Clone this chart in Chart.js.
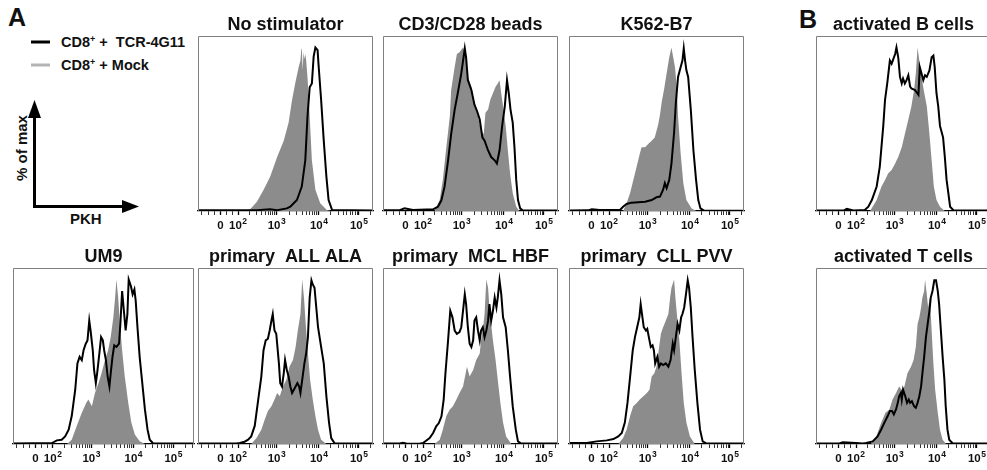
<!DOCTYPE html>
<html>
<head>
<meta charset="utf-8">
<script src="https://cdn.jsdelivr.net/npm/chart.js@4.4.1/dist/chart.umd.min.js"></script>
<style>
  body { margin: 0; width: 987px; height: 470px; overflow: hidden; position: relative; background: #fff;
         font-family: 'Liberation Sans', Arial, sans-serif; color: #111; }
  canvas { position: absolute; }
  .letter { position: absolute; font-weight: bold; font-size: 25px; line-height: 25px; }
  .leg { position: absolute; font-weight: bold; font-size: 14.5px; line-height: 16px; white-space: pre; }
  .leg sup { font-size: 9px; vertical-align: 5px; line-height: 0; }
  .axname { position: absolute; font-weight: bold; font-size: 15px; line-height: 16px; white-space: pre; }
</style>
</head>
<body>
<div class="letter" style="left:8px;top:5px">A</div>
<div class="letter" style="left:799px;top:7px">B</div>

<svg width="160" height="230" style="position:absolute;left:0;top:0">
  <line x1="31" y1="42" x2="50" y2="42" stroke="#000" stroke-width="3"/>
  <line x1="31" y1="65" x2="50" y2="65" stroke="#b4b4b4" stroke-width="3"/>
  <line x1="34.5" y1="207.5" x2="34.5" y2="114" stroke="#000" stroke-width="3"/>
  <polygon points="28,118 41,118 34.5,100" fill="#000"/>
  <line x1="33" y1="206.5" x2="124" y2="206.5" stroke="#000" stroke-width="3"/>
  <polygon points="122,200 122,213 139,206.5" fill="#000"/>
</svg>
<div class="leg" style="left:61px;top:34px">CD8<sup>+</sup> +  TCR-4G11</div>
<div class="leg" style="left:61px;top:57px">CD8<sup>+</sup> + Mock</div>
<div class="axname" style="left:-16px;top:140px;transform:rotate(-90deg);width:76px;text-align:center">% of max</div>
<div class="axname" style="left:70px;top:211px">PKH</div>

<canvas id="noStim" width="187" height="237" style="left:192px;top:0px"></canvas>
<canvas id="cd3" width="187" height="237" style="left:377px;top:0px"></canvas>
<canvas id="k562" width="187" height="237" style="left:563px;top:0px"></canvas>
<canvas id="bcell" width="187" height="237" style="left:810px;top:0px"></canvas>
<canvas id="um9" width="193" height="238" style="left:7px;top:232px"></canvas>
<canvas id="all" width="187" height="238" style="left:192px;top:232px"></canvas>
<canvas id="mcl" width="187" height="238" style="left:377px;top:232px"></canvas>
<canvas id="cll" width="187" height="238" style="left:563px;top:232px"></canvas>
<canvas id="tcell" width="187" height="238" style="left:810px;top:232px"></canvas>

<script>
// x in display decades (biexponential PKH axis), y in % of max
var tickPos = [1.78, 2.18, 3.06, 4.02, 4.93];
var tickBase = ['0', '10', '10', '10', '10'];
var tickExp = ['', '2', '3', '4', '5'];

// No stimulator
var noStimTcr = [[1.27,0.4],[2.61,0.5],[2.91,1.0],[3.07,0.5],[3.29,1.6],[3.37,2.6],[3.52,6.7],[3.63,14.9],[3.71,31],[3.76,57.7],[3.81,75.6],[3.86,78],[3.90,94.4],[3.94,100],[3.99,98.4],[4.01,90],[4.07,68],[4.13,43],[4.19,21],[4.24,6.7],[4.32,0.6],[5.25,0.3]];
var noStimMock = [[2.42,0],[2.61,5.7],[2.76,12.8],[2.91,21],[3.07,33],[3.22,43],[3.33,54],[3.41,68],[3.48,78],[3.56,88],[3.60,92],[3.62,99],[3.63,100],[3.65,86],[3.67,97],[3.69,93],[3.71,96],[3.73,92],[3.76,82],[3.81,58],[3.86,31],[3.94,13],[4.05,4.7],[4.20,0.6],[4.28,0]];

// CD3/CD28 beads
var cd3Tcr = [[1.27,0.5],[1.65,0.5],[1.76,1.6],[1.95,0.6],[2.41,1.0],[2.52,2.6],[2.60,6.7],[2.67,14.9],[2.75,31],[2.82,47],[2.90,62],[2.97,72],[3.05,84],[3.13,99.5],[3.16,94],[3.20,80],[3.28,74],[3.35,65],[3.41,61],[3.47,56],[3.53,45],[3.58,43],[3.66,37],[3.73,33],[3.81,31],[3.86,29],[3.92,37],[3.98,52],[4.04,64],[4.09,80],[4.13,72],[4.17,62],[4.22,54],[4.26,39],[4.30,19],[4.34,6.7],[4.39,1.6],[4.45,0.3],[5.25,0.3]];
var cd3Mock = [[2.44,0],[2.56,6.7],[2.63,19],[2.71,39],[2.79,58],[2.82,74],[2.90,88],[2.95,96],[3.01,97],[3.09,100],[3.15,96],[3.20,82],[3.28,76],[3.35,66],[3.43,58],[3.50,49],[3.56,47],[3.60,60],[3.66,62],[3.71,68],[3.77,72],[3.83,76],[3.88,78],[3.92,80],[3.96,72],[4.01,62],[4.06,52],[4.11,37],[4.16,23],[4.22,11],[4.30,2.6],[4.37,0]];

// K562-B7
var k562Tcr = [[1.27,0.3],[1.70,0.4],[1.79,1.0],[1.97,0.6],[2.43,0.6],[2.50,2.6],[2.58,4.3],[2.69,5.1],[3.00,5.7],[3.15,6.7],[3.26,8.4],[3.34,8.8],[3.41,13],[3.45,17],[3.49,14],[3.55,19],[3.60,29],[3.66,48],[3.70,66],[3.75,82],[3.81,88],[3.85,92],[3.88,99.5],[3.91,92],[3.94,86],[3.98,82],[4.04,62],[4.10,37],[4.16,19],[4.21,6.7],[4.26,1.6],[4.34,0.2],[5.25,0.2]];
var k562Mock = [[2.50,0],[2.58,4.7],[2.66,11],[2.77,23],[2.88,35],[2.92,39],[3.00,39],[3.07,41],[3.15,43],[3.22,45],[3.30,53],[3.34,59],[3.38,67],[3.43,74],[3.49,84],[3.55,94],[3.60,100],[3.64,94],[3.68,88],[3.72,76],[3.75,58],[3.81,35],[3.87,17],[3.94,6.7],[4.06,1.6],[4.17,0]];

// activated B cells
var bcellTcr = [[1.27,0.3],[1.90,0.3],[1.97,1.4],[2.12,0.3],[2.38,0.6],[2.46,2.6],[2.54,6.7],[2.65,15],[2.72,27],[2.80,52],[2.84,68],[2.89,78],[2.95,92],[2.99,90],[3.03,93],[3.07,96],[3.10,100],[3.14,94],[3.18,82],[3.22,78],[3.25,81],[3.29,78],[3.33,80],[3.37,83],[3.41,76],[3.44,75],[3.52,74],[3.60,71],[3.63,88],[3.67,84],[3.71,80],[3.75,83],[3.79,82],[3.85,86],[3.90,94],[3.94,95],[3.97,88],[4.01,72],[4.05,64],[4.09,52],[4.13,48],[4.16,45],[4.20,33],[4.24,19],[4.28,11],[4.32,2.6],[4.40,0.3],[5.25,0.3]];
var bcellMock = [[2.50,0],[2.65,6.7],[2.76,15],[2.84,19],[2.91,23],[2.99,25],[3.07,29],[3.14,33],[3.22,39],[3.29,47],[3.37,56],[3.44,64],[3.50,74],[3.54,84],[3.58,100],[3.62,92],[3.67,82],[3.72,74],[3.79,64],[3.85,47],[3.90,31],[3.95,15],[4.01,6.7],[4.09,2.6],[4.20,0]];

// UM9
var um9Tcr = [[1.27,0.3],[2.16,0.6],[2.27,2.2],[2.38,2.6],[2.46,4.6],[2.54,8.7],[2.61,17],[2.69,33],[2.74,49],[2.79,53],[2.84,51],[2.88,57],[2.93,61],[2.97,63],[3.01,75],[3.04,69],[3.09,57],[3.12,45],[3.16,37],[3.19,43],[3.24,55],[3.28,65],[3.32,63],[3.35,57],[3.39,51],[3.43,41],[3.47,35],[3.50,43],[3.54,53],[3.58,60],[3.63,59],[3.69,61],[3.72,73],[3.76,93],[3.80,81],[3.84,69],[3.88,79],[3.91,100],[3.96,96],[4.00,91],[4.04,94],[4.07,87],[4.11,71],[4.16,53],[4.22,37],[4.28,21],[4.34,8.7],[4.39,2.6],[4.47,0.3],[5.40,0.3]];
var um9Mock = [[2.50,0],[2.61,2.6],[2.72,10.7],[2.84,19],[2.94,25],[2.99,27],[3.07,23],[3.14,31],[3.22,37],[3.29,43],[3.37,51],[3.44,57],[3.50,65],[3.56,77],[3.60,89],[3.63,100],[3.67,89],[3.71,73],[3.76,57],[3.82,41],[3.90,25],[3.97,13],[4.05,5.7],[4.16,1.6],[4.28,0]];

// primary ALL ALA
var allTcr = [[1.27,0.3],[2.14,0.3],[2.22,0.6],[2.33,1.4],[2.41,2.6],[2.48,4.6],[2.56,11],[2.63,25],[2.71,41],[2.76,57],[2.81,63],[2.86,64],[2.90,69],[2.94,75],[2.97,79],[3.01,69],[3.05,67],[3.07,61],[3.11,49],[3.14,37],[3.18,35],[3.22,43],[3.25,51],[3.29,45],[3.33,41],[3.37,35],[3.41,31],[3.45,33],[3.49,35],[3.53,37],[3.57,35],[3.60,31],[3.64,39],[3.69,49],[3.73,55],[3.77,65],[3.81,89],[3.85,99.5],[3.88,97],[3.92,95],[3.96,83],[4.00,71],[4.07,59],[4.13,49],[4.19,29],[4.25,13],[4.30,3.6],[4.38,0.3],[5.25,0.3]];
var allMock = [[2.48,0],[2.60,3.6],[2.71,8.7],[2.79,15],[2.86,20],[2.94,23],[3.01,27],[3.07,31],[3.13,29],[3.20,35],[3.28,39],[3.35,47],[3.43,51],[3.49,59],[3.54,69],[3.60,79],[3.64,100],[3.68,89],[3.72,73],[3.77,55],[3.82,39],[3.88,27],[3.94,17],[4.00,8.7],[4.07,2.6],[4.19,0]];

// primary MCL HBF
var mclTcr = [[1.27,0.3],[1.65,0.3],[1.72,0.8],[1.80,0.3],[2.10,0.2],[2.18,0.6],[2.25,2.0],[2.33,3.6],[2.41,6.7],[2.48,10.7],[2.54,12.7],[2.60,16.8],[2.65,27],[2.69,43],[2.75,63],[2.80,81],[2.85,77],[2.90,69],[2.95,67],[3.01,68],[3.05,71],[3.09,81],[3.13,91],[3.16,85],[3.20,71],[3.24,61],[3.28,59],[3.32,63],[3.35,75],[3.39,77],[3.43,69],[3.47,63],[3.50,69],[3.54,71],[3.58,65],[3.62,69],[3.66,75],[3.69,85],[3.73,75],[3.77,81],[3.81,89],[3.85,83],[3.88,89],[3.92,99.5],[3.96,91],[4.00,77],[4.06,71],[4.11,57],[4.16,41],[4.22,23],[4.29,8.7],[4.34,1.6],[4.41,0.3],[5.25,0.3]];
var mclMock = [[2.44,0],[2.56,2.6],[2.63,8.7],[2.71,17],[2.79,21],[2.86,23],[2.94,27],[3.01,31],[3.09,35],[3.15,43],[3.18,47],[3.24,41],[3.32,45],[3.39,51],[3.47,55],[3.50,63],[3.54,69],[3.58,79],[3.62,100],[3.66,95],[3.69,83],[3.73,73],[3.77,63],[3.83,51],[3.88,39],[3.94,25],[4.00,13],[4.07,4.6],[4.19,0]];

// primary CLL PVV
var cllTcr = [[1.27,0.6],[1.67,0.6],[1.90,1.6],[2.13,2.2],[2.28,3.0],[2.39,4.6],[2.47,6.7],[2.54,13],[2.60,25],[2.66,41],[2.72,57],[2.77,65],[2.82,71],[2.87,77],[2.90,85],[2.94,77],[2.97,71],[3.02,69],[3.05,70],[3.10,63],[3.13,59],[3.17,60],[3.20,57],[3.23,49],[3.28,53],[3.32,47],[3.36,49],[3.41,48],[3.47,49],[3.53,47],[3.58,51],[3.63,61],[3.66,57],[3.70,65],[3.74,73],[3.78,69],[3.82,77],[3.85,79],[3.89,83],[3.93,91],[3.97,99.5],[4.00,95],[4.04,83],[4.08,65],[4.13,45],[4.19,25],[4.25,8.7],[4.31,1.6],[4.40,0.3],[5.25,0.3]];
var cllMock = [[2.39,0],[2.50,3.6],[2.58,8.7],[2.66,17],[2.73,23],[2.81,25],[2.88,27],[2.96,29],[3.04,31],[3.10,33],[3.15,41],[3.21,43],[3.26,47],[3.32,59],[3.36,67],[3.41,71],[3.47,75],[3.53,79],[3.57,89],[3.60,95],[3.66,100],[3.69,89],[3.73,77],[3.78,63],[3.83,43],[3.88,25],[3.94,13],[4.02,4.6],[4.13,0]];

// activated T cells
var tcellTcr = [[1.27,0.3],[1.80,0.3],[1.88,1.0],[2.18,0.6],[2.33,0.3],[2.41,0.6],[2.56,1.6],[2.67,4.6],[2.75,8.7],[2.82,12.7],[2.90,17],[2.95,20],[3.00,20],[3.04,18],[3.09,21],[3.13,25],[3.16,29],[3.20,31],[3.22,27],[3.25,33],[3.30,29],[3.34,25],[3.38,27],[3.41,25],[3.45,26],[3.50,23],[3.54,22],[3.58,25],[3.62,29],[3.66,35],[3.69,43],[3.73,53],[3.77,65],[3.81,73],[3.85,81],[3.88,89],[3.92,93],[3.96,99.5],[4.00,99.5],[4.04,93],[4.07,85],[4.11,69],[4.15,53],[4.19,39],[4.22,23],[4.26,8.7],[4.30,2.6],[4.38,0.3],[5.25,0.3]];
var tcellMock = [[2.52,0],[2.63,3.6],[2.75,12.7],[2.85,19],[2.94,21],[3.01,27],[3.09,31],[3.16,35],[3.22,33],[3.28,35],[3.35,43],[3.43,47],[3.49,51],[3.54,59],[3.58,73],[3.62,77],[3.66,83],[3.69,89],[3.73,93],[3.75,100],[3.79,91],[3.82,83],[3.86,89],[3.90,69],[3.94,49],[3.98,33],[4.04,19],[4.09,8.7],[4.15,2.6],[4.23,0]];

// minor ticks of the biexponential axis (no labels)
var minorTicks = [1.35, 1.5, 1.64, 1.92, 2.05];
var decades = [[2.18, 3.06], [3.06, 4.02], [4.02, 4.93], [4.93, 5.84]];
decades.forEach(function (d) {
  for (var k = 2; k <= 9; k++) minorTicks.push(d[0] + Math.log10(k) * (d[1] - d[0]));
});

var fontFam = "'Liberation Sans', Arial, sans-serif";

// grey frame on top / left / right, plus "10^n" tick labels with a real superscript
var frame = {
  id: 'frame',
  afterDraw: function (chart) {
    var a = chart.chartArea, ctx = chart.ctx, sx = chart.scales.x;
    var l = Math.round(a.left) + 0.5, r = Math.round(a.right) - 0.5;
    var t = Math.round(a.top) + 0.5, b = Math.round(a.bottom);
    ctx.save();
    ctx.strokeStyle = '#808080';
    ctx.lineWidth = 1;
    ctx.beginPath();
    ctx.moveTo(l, b); ctx.lineTo(l, t); ctx.lineTo(r, t); ctx.lineTo(r, b);
    ctx.stroke();

    ctx.fillStyle = '#111';
    ctx.textBaseline = 'alphabetic';
    ctx.textAlign = 'left';
    var base = a.bottom + 18;
    for (var i = 0; i < tickPos.length; i++) {
      var cx = sx.getPixelForValue(tickPos[i]);
      ctx.font = 'bold 11.5px ' + fontFam;
      var w1 = ctx.measureText(tickBase[i]).width;
      ctx.font = 'bold 8.5px ' + fontFam;
      var w2 = tickExp[i] ? ctx.measureText(tickExp[i]).width + 0.5 : 0;
      var x0 = cx - (w1 + w2) / 2;
      ctx.font = 'bold 11.5px ' + fontFam;
      ctx.fillText(tickBase[i], x0, base);
      if (tickExp[i]) {
        ctx.font = 'bold 8.5px ' + fontFam;
        ctx.fillText(tickExp[i], x0 + w1 + 0.5, base - 5);
      }
    }
    ctx.restore();
  }
};

function toXY(arr) {
  return arr.map(function (p) { return { x: p[0], y: p[1] }; });
}

function drawHisto(id, title, tcr, mock, xMax) {
  var ticksAll = tickPos.concat(minorTicks.filter(function (v) { return v < xMax; }))
    .sort(function (a, b) { return a - b; });
  return new Chart(document.getElementById(id), {
    type: 'line',
    data: {
      datasets: [{
        label: 'CD8+ + TCR-4G11',
        data: toXY(tcr),
        borderColor: '#000',
        borderWidth: 2,
        pointRadius: 0,
        fill: false,
        order: 0
      }, {
        label: 'CD8+ + Mock',
        data: toXY(mock),
        borderColor: 'rgba(0,0,0,0)',
        borderWidth: 0,
        backgroundColor: '#8c8c8c',
        pointRadius: 0,
        fill: 'origin',
        order: 1
      }]
    },
    options: {
      responsive: false,
      animation: false,
      layout: { padding: { left: 6, right: 6, top: 0, bottom: 0 } },
      plugins: {
        legend: { display: false },
        tooltip: { enabled: false },
        title: {
          display: true,
          text: title,
          color: '#111',
          font: { family: fontFam, size: 18, weight: 'bold', lineHeight: '20px' },
          padding: { top: 15, bottom: 1 }
        }
      },
      scales: {
        x: {
          type: 'linear',
          min: 1.27,
          max: xMax,
          afterBuildTicks: function (s) {
            s.ticks = ticksAll.map(function (v) { return { value: v }; });
          },
          afterFit: function (s) { s.height = 26; },
          grid: {
            drawOnChartArea: false,
            drawTicks: true,
            tickLength: 4,
            color: '#000',
            tickWidth: function (c) { return c.tick && tickPos.indexOf(c.tick.value) >= 0 ? 1.3 : 0.8; }
          },
          border: { display: true, color: '#000', width: 1.3 },
          ticks: {
            autoSkip: false,
            maxRotation: 0,
            minRotation: 0,
            callback: function () { return ''; }
          }
        },
        y: { display: false, min: 0, max: 107 }
      }
    },
    plugins: [frame]
  });
}

drawHisto('noStim', 'No stimulator', noStimTcr, noStimMock, 5.25);
drawHisto('cd3', 'CD3/CD28 beads', cd3Tcr, cd3Mock, 5.25);
drawHisto('k562', 'K562-B7', k562Tcr, k562Mock, 5.25);
drawHisto('bcell', 'activated B cells', bcellTcr, bcellMock, 5.25);
drawHisto('um9', 'UM9', um9Tcr, um9Mock, 5.40);
drawHisto('all', 'primary  ALL ALA', allTcr, allMock, 5.25);
drawHisto('mcl', 'primary  MCL HBF', mclTcr, mclMock, 5.25);
drawHisto('cll', 'primary  CLL PVV', cllTcr, cllMock, 5.25);
drawHisto('tcell', 'activated T cells', tcellTcr, tcellMock, 5.25);
</script>
</body>
</html>
